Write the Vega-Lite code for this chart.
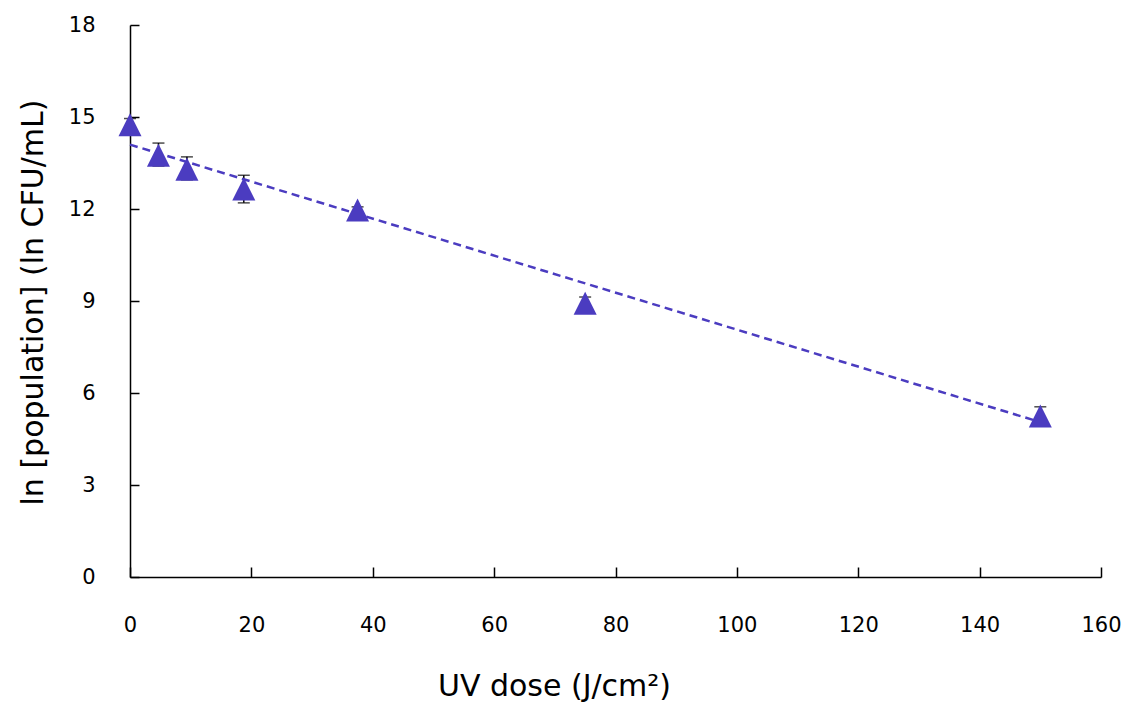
{
  "$schema": "https://vega.github.io/schema/vega-lite/v6.json",
  "width": 971,
  "height": 552,
  "autosize": "none",
  "padding": {"left": 130, "top": 25, "right": 32, "bottom": 130},
  "background": "white",
  "config": {
    "view": {"stroke": null},
    "axis": {"grid": false, "labelFlush": false, "domainColor": "black", "tickColor": "black", "labelColor": "black", "titleColor": "black", "labelFont": "DejaVu Sans", "titleFont": "DejaVu Sans", "labelFontSize": 21, "titleFontSize": 30, "titleFontWeight": "normal", "domainWidth": 1.5, "tickWidth": 1.5}
  },
  "resolve": {"axis": {"x": "independent", "y": "independent"}},
  "datasets": {
    "pts": [
      {"dose": 0, "value": 14.75, "lo": 14.55, "hi": 14.95},
      {"dose": 4.69, "value": 13.75, "lo": 13.4, "hi": 14.15},
      {"dose": 9.38, "value": 13.3, "lo": 12.95, "hi": 13.7},
      {"dose": 18.75, "value": 12.65, "lo": 12.2, "hi": 13.1},
      {"dose": 37.5, "value": 11.97, "lo": 11.87, "hi": 12.07},
      {"dose": 75, "value": 8.93, "lo": 8.73, "hi": 9.13},
      {"dose": 150, "value": 5.25, "lo": 4.95, "hi": 5.55}
    ],
    "trend": [
      {"dose": 0, "fit": 14.1},
      {"dose": 150, "fit": 5.05}
    ]
  },
  "layer": [
    {
      "data": {"name": "pts"},
      "mark": {"type": "rule", "color": "black", "strokeWidth": 1.5},
      "encoding": {
        "x": {"field": "dose", "type": "quantitative", "scale": {"domain": [0, 160], "nice": false}, "axis": {"orient": "bottom", "values": [0, 20, 40, 60, 80, 100, 120, 140, 160], "ticks": false, "tickSize": 0, "labelPadding": 37, "title": "UV dose (J/cm²)", "titleX": 424, "titleY": 109, "titleAlign": "center", "titleBaseline": "middle"}},
        "y": {"field": "lo", "type": "quantitative", "scale": {"domain": [0, 18], "nice": false}, "axis": {"orient": "left", "values": [0, 3, 6, 9, 12, 15, 18], "ticks": false, "tickSize": 0, "labelPadding": 35, "title": "ln [population] (ln CFU/mL)", "titleX": -97, "titleY": 277, "titleAlign": "center", "titleBaseline": "middle", "titleAngle": -90}},
        "y2": {"field": "hi"}
      }
    },
    {
      "data": {"name": "pts"},
      "mark": {"type": "tick", "orient": "horizontal", "color": "black", "thickness": 1.5, "size": 12},
      "encoding": {
        "x": {"field": "dose", "type": "quantitative", "axis": null},
        "y": {"field": "hi", "type": "quantitative", "axis": null}
      }
    },
    {
      "data": {"name": "pts"},
      "mark": {"type": "tick", "orient": "horizontal", "color": "black", "thickness": 1.5, "size": 12},
      "encoding": {
        "x": {"field": "dose", "type": "quantitative", "axis": null},
        "y": {"field": "lo", "type": "quantitative", "axis": null}
      }
    },
    {
      "data": {"name": "trend"},
      "mark": {"type": "line", "color": "#4B3CC0", "strokeWidth": 2.5, "strokeDash": [8, 5]},
      "encoding": {
        "x": {"field": "dose", "type": "quantitative", "axis": {"orient": "bottom", "values": [0, 20, 40, 60, 80, 100, 120, 140, 160], "domain": false, "labels": false, "title": null, "tickSize": 10, "offset": -10}},
        "y": {"field": "fit", "type": "quantitative", "axis": {"orient": "left", "values": [0, 3, 6, 9, 12, 15, 18], "domain": false, "labels": false, "title": null, "tickSize": 9, "offset": -9}}
      }
    },
    {
      "data": {"name": "pts"},
      "mark": {"type": "point", "shape": "M0,-1L1,1L-1,1Z", "filled": true, "color": "#4B3CC0", "opacity": 1, "size": 530},
      "encoding": {
        "x": {"field": "dose", "type": "quantitative", "axis": null},
        "y": {"field": "value", "type": "quantitative", "axis": null}
      }
    }
  ]
}
